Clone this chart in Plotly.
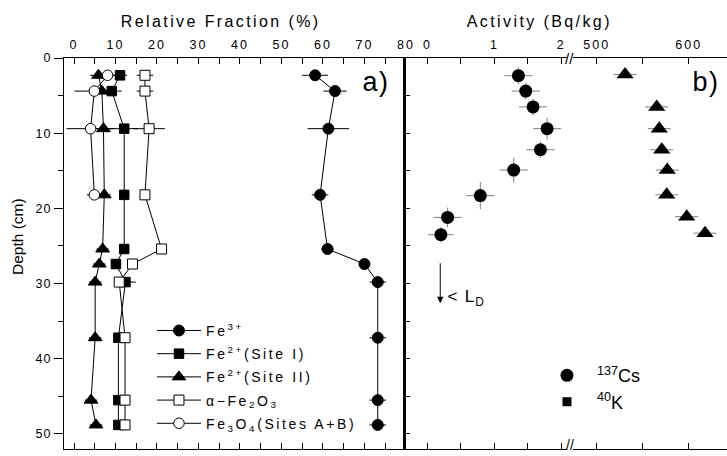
import plotly.graph_objects as go

# ---------------- data: panel a (relative fraction, %) ----------------
depth_a = [2.3, 4.4, 9.4, 18.2, 25.4, 27.4, 29.8, 37.2, 45.5, 48.8]
fe3 = [58.1, 62.9, 61.3, 59.3, 61.1, 70.0, 73.2, 73.2, 73.2, 73.2]
fe3_err = [3.1, 2.8, 5.0, 2.0, 1.5, 1.2, 2.0, 2.0, 2.0, 2.0]
fe2_site1 = [11.1, 9.1, 12.1, 12.1, 12.1, 10.1, 12.4, 10.7, 10.7, 10.7]
fe2_site1_err = [1.7, 2.4, 3.3, 1.0, 1.0, 1.0, 2.5, 1.0, 1.0, 1.0]
fe2_site2 = [5.9, 6.7, 7.1, 7.3, 6.9, 6.1, 5.1, 5.1, 4.1, 5.3]
fe2_site2_err = [2.0, 1.5, 2.0, 1.5, 1.5, 1.5, 1.5, 1.5, 1.5, 1.5]
hematite = [17.1, 17.1, 18.1, 17.1, 21.1, 14.1, 10.9, 12.3, 12.3, 12.3]
hematite_err = [2.0, 2.0, 3.8, 1.0, 1.0, 1.0, 1.0, 1.0, 1.0, 1.0]
depth_mag = [2.3, 4.4, 9.4, 18.2]
magnetite = [8.1, 4.9, 4.0, 4.9]
magnetite_err = [2.0, 4.8, 5.8, 1.8]

names_a = ["Fe<sup>3+</sup>", "Fe<sup>2+</sup>(Site I)", "Fe<sup>2+</sup>(Site II)",
           "\u03b1\u2212Fe<sub>2</sub>O<sub>3</sub>", "Fe<sub>3</sub>O<sub>4</sub>(Sites A+B)"]

# ---------------- data: panel b (activity, Bq/kg) ----------------
cs_depth = [2.35, 4.4, 6.5, 9.4, 12.2, 14.9, 18.3, 21.2, 23.5]
cs137 = [1.36, 1.47, 1.58, 1.79, 1.69, 1.29, 0.79, 0.30, 0.20]
cs137_xerr = [0.21, 0.21, 0.21, 0.21, 0.21, 0.21, 0.21, 0.21, 0.19]
cs137_yerr = [1.1, 1.1, 1.1, 1.45, 1.1, 1.65, 1.8, 1.3, 1.0]
k_depth = [2.2, 6.5, 9.4, 12.2, 14.9, 18.2, 21.1, 23.3]
k40 = [530.8, 565.2, 568.0, 570.7, 576.7, 576.1, 597.8, 617.7]
k40_err = [12.5, 12.5, 12.5, 12.5, 12.5, 12.5, 12.5, 12.5]

FONT = "Liberation Sans, Arial, Helvetica, sans-serif"

fig = go.Figure()


def add_a(name, x, xerr, ydep, symbol, fill, size):
    fig.add_trace(go.Scatter(
        x=x, y=ydep, mode="lines+markers", name=name,
        line=dict(color="black", width=1),
        marker=dict(symbol=symbol, size=size, color=fill,
                    line=dict(color="black", width=1)),
        error_x=dict(type="data", array=xerr, width=0, thickness=1, color="black"),
        xaxis="x", yaxis="y", legend="legend", legendgroup=name))


add_a(names_a[0], fe3, fe3_err, depth_a, "circle", "black", 11)
add_a(names_a[1], fe2_site1, fe2_site1_err, depth_a, "square", "black", 9.5)
add_a(names_a[2], fe2_site2, fe2_site2_err, depth_a, "triangle-up", "black", 12)
add_a(names_a[3], hematite, hematite_err, depth_a, "square", "white", 10)
add_a(names_a[4], magnetite, magnetite_err, depth_mag, "circle", "white", 10.5)

fig.add_trace(go.Scatter(
    x=cs137, y=cs_depth, mode="markers", name="<sup>137</sup>Cs",
    marker=dict(symbol="circle", size=13, color="black"),
    error_x=dict(type="data", array=cs137_xerr, width=0, thickness=1, color="#7f7f7f"),
    error_y=dict(type="data", array=cs137_yerr, width=0, thickness=1, color="#7f7f7f"),
    xaxis="x2", yaxis="y2", legend="legend2", legendgroup="cs"))
fig.add_trace(go.Scatter(
    x=k40, y=k_depth, mode="markers", name="<sup>40</sup>K", showlegend=False,
    marker=dict(symbol="triangle-up", size=15, color="black"),
    error_x=dict(type="data", array=k40_err, width=0, thickness=1, color="#7f7f7f"),
    xaxis="x3", yaxis="y2"))
fig.add_trace(go.Scatter(
    x=[None], y=[None], mode="markers", name="<sup>40</sup>K",
    marker=dict(symbol="square", size=9, color="black"),
    xaxis="x3", yaxis="y2", legend="legend2", legendgroup="k"))

common_x = dict(side="top", ticks="inside", ticklen=6, tickwidth=1, tickcolor="black",
                showline=True, linewidth=1.3, linecolor="black", mirror="ticks",
                showgrid=False, zeroline=False, automargin=False,
                tickfont=dict(size=12.5, family=FONT, color="black"),
                ticklabelstandoff=3)

fig.update_layout(
    template="none",
    width=727, height=456,
    margin=dict(l=64, r=0, t=58, b=7, autoexpand=False),
    paper_bgcolor="white", plot_bgcolor="white",
    font=dict(family=FONT, color="black"),
    showlegend=True,
    xaxis=dict(domain=[0, 0.5158], range=[-2.41, 80], anchor="y", tick0=0, dtick=10,
               minor=dict(dtick=5, tick0=0, ticks="inside", ticklen=6, tickcolor="black", showgrid=False),
               **common_x),
    xaxis2=dict(domain=[0.5158, 0.7587], range=[-0.323, 2.088], anchor="y2", tick0=0, dtick=1,
                minor=dict(dtick=0.5, tick0=0, ticks="inside", ticklen=6, tickcolor="black", showgrid=False),
                **common_x),
    xaxis3=dict(domain=[0.7677, 1], range=[474.2, 641.6], anchor="y2", tick0=0, dtick=100,
                minor=dict(dtick=50, tick0=0, ticks="inside", ticklen=6, tickcolor="black", showgrid=False),
                **common_x),
    yaxis=dict(domain=[0, 1], range=[52, 0], anchor="x", ticks="outside", ticklen=9,
               tickcolor="black", tick0=0, dtick=10,
               minor=dict(dtick=5, tick0=0, ticks="outside", ticklen=5, tickcolor="black", showgrid=False),
               showline=True, linewidth=1.3, linecolor="black", mirror=False,
               showgrid=False, zeroline=False, automargin=False,
               tickfont=dict(size=12.5, family=FONT, color="black"), ticklabelstandoff=0),
    yaxis2=dict(domain=[0, 1], range=[52, 0], anchor="x2", ticks="inside", ticklen=4,
                tickcolor="black", tick0=0, dtick=5, showticklabels=False, automargin=False,
                showline=True, linewidth=3, linecolor="black", showgrid=False, zeroline=False),
    yaxis3=dict(range=[52, 0], overlaying="y", anchor="x", side="right", ticks="inside",
                ticklen=4, tickcolor="black", tick0=0, dtick=5, showticklabels=False,
                automargin=False, showline=False, showgrid=False, zeroline=False),
    legend=dict(x=0.1327, y=0.343, xanchor="left", yanchor="top",
                font=dict(size=14, family=FONT, color="black"), bgcolor="rgba(0,0,0,0)",
                itemwidth=44, tracegroupgap=2, traceorder="grouped"),
    legend2=dict(x=0.7134, y=0.235, xanchor="left", yanchor="top",
                 font=dict(size=18, family=FONT, color="black"), bgcolor="rgba(0,0,0,0)",
                 itemwidth=50, tracegroupgap=0, traceorder="grouped"),
)

mid = dict(xanchor="center", yanchor="middle", showarrow=False)
annotations = [
    dict(text="Relative Fraction (%)", x=0.2353, y=1.0946, xref="paper", yref="paper",
         font=dict(size=16, family=FONT, color="black"), **mid),
    dict(text="Activity (Bq/kg)", x=0.7179, y=1.0946, xref="paper", yref="paper",
         font=dict(size=16, family=FONT, color="black"), **mid),
    dict(text="Depth (cm)", x=-0.0694, y=0.5448, xref="paper", yref="paper",
         textangle=-90, font=dict(size=15.5, family=FONT, color="black"), **mid),
    dict(text="a)", x=0.4706, y=0.939, xref="paper", yref="paper",
         font=dict(size=27, family=FONT, color="black"), **mid),
    dict(text="b)", x=0.9683, y=0.939, xref="paper", yref="paper",
         font=dict(size=27, family=FONT, color="black"), **mid),
    dict(text="", x=0.19, y=32.6, xref="x2", yref="y2", ax=0.19, ay=27.1,
         axref="x2", ayref="y2", showarrow=True, arrowhead=2, arrowsize=1.3,
         arrowwidth=1, arrowcolor="black"),
    dict(text="< L<sub>D</sub>", x=0.31, y=31.9, xref="x2", yref="y2", xanchor="left",
         yanchor="middle", showarrow=False, font=dict(size=17, family=FONT, color="black")),
    dict(text="//", x=0.763, y=1, xref="paper", yref="paper",
         font=dict(size=15, family=FONT, color="black"), **mid),
    dict(text="//", x=0.763, y=0.01, xref="paper", yref="paper",
         font=dict(size=14, family=FONT, color="black"), **mid),
]
fig.update_layout(annotations=annotations)

post = """
document.documentElement.style.margin = '0px';
document.body.style.margin = '0px';
document.body.style.padding = '0px';
var gd = document.getElementById('{plot_id}');
function ls(sel, v){ gd.querySelectorAll(sel).forEach(function(e){ e.style.letterSpacing = v + 'px'; }); }
ls('.xtick text, .x2tick text, .x3tick text', 2);
ls('.ytick text', 1);
ls('.legend .legendtext', 2.6);
ls('.legend2 .legendtext', 1);
gd.querySelectorAll('.legend .scrollbox, .legend2 .scrollbox').forEach(function(e){ e.removeAttribute('clip-path'); });
var sp = [2.4, 2.4, 0, 1.5, 1.5, 0, 1.2, 0, 0];
gd.querySelectorAll('.annotation-text').forEach(function(e, i){ if (sp[i]) { e.style.letterSpacing = sp[i] + 'px'; } });
"""

fig.write_html("out.html", post_script=post, config={"displayModeBar": False})
